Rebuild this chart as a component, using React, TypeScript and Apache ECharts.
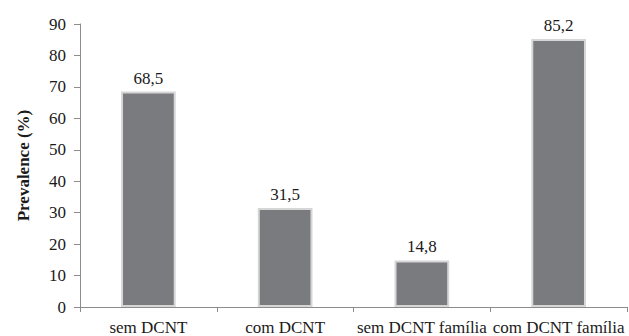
import React, { useEffect, useRef } from "react";
import * as echarts from "echarts";

const categories = ["sem DCNT", "com DCNT", "sem DCNT família", "com DCNT família"];
const values = [68.5, 31.5, 14.8, 85.2];
const yTitle = "Prevalence (%)";

export default function App() {
  const ref = useRef<HTMLDivElement>(null);
  useEffect(() => {
    if (!ref.current) return;
    const chart = echarts.init(ref.current, undefined, { renderer: "svg" });
    const font = "'Liberation Serif', 'Times New Roman', serif";
    chart.setOption({
      animation: false,
      textStyle: { fontFamily: font },
      grid: { left: 80, right: 2, top: 24, bottom: 26, containLabel: false },
      xAxis: {
        type: "category",
        data: categories,
        axisLine: { lineStyle: { color: "#8c8c8c", width: 1 } },
        axisTick: { show: true, alignWithLabel: false, length: 5, lineStyle: { color: "#8c8c8c" } },
        axisLabel: { color: "#1a1a1a", fontSize: 17, fontFamily: font, margin: 12, interval: 0 },
      },
      yAxis: {
        type: "value",
        min: 0,
        max: 90,
        interval: 10,
        name: yTitle,
        nameLocation: "middle",
        nameGap: 48,
        nameTextStyle: { color: "#1a1a1a", fontSize: 17, fontWeight: "bold", fontFamily: font },
        axisLine: { show: true, lineStyle: { color: "#8c8c8c", width: 1 } },
        axisTick: { show: true, length: 6, lineStyle: { color: "#8c8c8c" } },
        axisLabel: { color: "#1a1a1a", fontSize: 17, fontFamily: font, margin: 14 },
        splitLine: { show: false },
      },
      series: [
        {
          type: "bar",
          data: values,
          barWidth: "40%",
          itemStyle: { color: "#7a7b7f", borderColor: "#d6d6d6", borderWidth: 2 },
          label: {
            show: true,
            position: "top",
            distance: 5,
            color: "#1a1a1a",
            fontSize: 17,
            fontFamily: font,
            formatter: (p: any) => String(p.value).replace(".", ","),
          },
        },
      ],
    });
    return () => chart.dispose();
  }, []);
  return (
    <div
      ref={ref}
      style={{ position: "absolute", left: 0, top: 0, width: 629, height: 336 }}
    />
  );
}
